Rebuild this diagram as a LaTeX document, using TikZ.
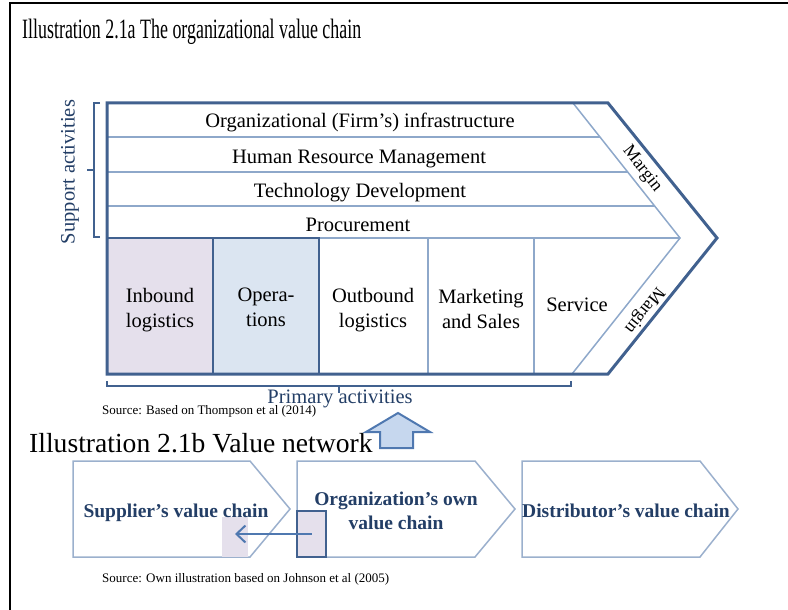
\documentclass[tikz,border=0pt]{standalone}
\usepackage{fontspec}
\setmainfont{Liberation Serif}
\newfontfamily\condfont[FakeStretch=0.64]{Liberation Serif}
\usetikzlibrary{arrows.meta,calc}
\definecolor{outerb}{HTML}{41618F}
\definecolor{lineb}{HTML}{8EA8CA}
\definecolor{txtb}{HTML}{233E66}
\definecolor{lav}{HTML}{E5E0EC}
\definecolor{ltb}{HTML}{DBE5F1}
\definecolor{arrfill}{HTML}{C6D7EE}
\definecolor{arrline}{HTML}{4F78B0}
\definecolor{chevline}{HTML}{9BB0CD}
\newcommand{\fsmain}{\fontsize{20.5}{25}\selectfont}
\newcommand{\fschev}{\fontsize{19.5}{24}\selectfont}
\tikzset{
  rowtext/.style={anchor=base, font=\fsmain, text=black, inner sep=0pt},
  primtext/.style={align=center, font=\fsmain, text=black, inner sep=0pt},
  lightline/.style={draw=lineb, line width=1.5pt},
  darkline/.style={draw=outerb, line width=2.5pt},
  chevron/.style={draw=chevline, line width=1.5pt, line join=miter},
  chevtext/.style={font=\fschev\bfseries, text=txtb, inner sep=0pt},
  bluetext/.style={font=\fsmain, text=txtb, inner sep=0pt},
  margintext/.style={font=\fontsize{18}{20}\selectfont, text=black, inner sep=0pt},
  srctext/.style={anchor=base west, font=\fontsize{13}{15}\selectfont, text=black, inner sep=0pt},
  bracket/.style={draw=outerb, line width=1.5pt}
}
\begin{document}
\begin{tikzpicture}[x=1pt,y=-1pt]
\useasboundingbox (0,0) rectangle (788,610);
% frame
\draw[line width=2pt, black] (10,610) -- (10,3) -- (788,3);
% titles
\node[anchor=base west, inner sep=0pt, font=\condfont\fontsize{28}{30}\selectfont] (t1) at (22,39) {Illustration 2.1a The organizational value chain};
\node[anchor=base west, inner sep=0pt, font=\fontsize{27.6}{30}\selectfont] (t2) at (29,452) {Illustration 2.1b Value network};

% primary box fills
\fill[lav] (107,238) rectangle (213,374);
\fill[ltb] (213,238) rectangle (319,374);
% light inner lines
\draw[lightline] (573,103) -- (680,238) -- (572,374);
\draw[lightline] (107,137) -- (600,137);
\draw[lightline] (107,172) -- (628,172);
\draw[lightline] (107,206) -- (655,206);
\draw[lightline] (319,238) -- (680,238);
\draw[lightline] (428,238) -- (428,374);
\draw[lightline] (534,238) -- (534,374);
% dark box borders
\draw[darkline] (107,238) rectangle (213,374);
\draw[darkline] (213,238) rectangle (319,374);
% outer chevron
\draw[draw=outerb, line width=3pt, line join=miter] (107,103) -- (608,103) -- (717,238) -- (608,374) -- (107,374) -- cycle;

% support rows
\node[rowtext] (infra) at (360,128) {Organizational (Firm’s) infrastructure};
\node[rowtext] (hrm) at (359,164) {Human Resource Management};
\node[rowtext] (tech) at (360,197) {Technology Development};
\node[rowtext] (proc) at (358,231) {Procurement};
% primary activities
\node[primtext] (inb) at (160,310) {Inbound\\logistics};
\node[primtext] (ops) at (266,307.5) {Opera-\\tions};
\node[primtext] (outb) at (373,310) {Outbound\\logistics};
\node[primtext] (mkt) at (481,308.5) {Marketing\\and Sales};
\node[primtext, anchor=base] (serv) at (577,311) {Service};
% margins
\node[margintext, rotate=-51.6] (m1) at (642,169) {Margin};
\node[margintext, rotate=-128.7] (m2) at (644,310) {Margin};

% support bracket
\draw[bracket] (100,103) -- (94,103) -- (94,237) -- (100,237);
\draw[bracket] (94,170) -- (87,170);
\node[bluetext, rotate=90] (supp) at (70,172) {Support activities};
% primary bracket
\draw[bracket] (107,381) -- (107,386) -- (571,386) -- (571,381);
\draw[bracket] (339,386) -- (339,393);
\node[bluetext, anchor=base] (prim) at (340,403) {Primary activities};
\node[srctext] (src1) at (102,414) {Source: Based on Thompson et al (2014)};

% block arrow
\draw[draw=arrline, line width=2pt, fill=arrfill, line join=miter] (380,448) -- (380,432) -- (366,432) -- (398,413) -- (430,432) -- (413,432) -- (413,448) -- cycle;

% value network
\draw[chevron] (73,461) -- (250,461) -- (290,509) -- (250,557) -- (73,557) -- cycle;
\draw[chevron] (297,461) -- (475,461) -- (515,509) -- (475,557) -- (297,557) -- cycle;
\draw[chevron] (522,461) -- (700,461) -- (738,509) -- (700,557) -- (522,557) -- cycle;
\node[fill=lav, minimum width=26pt, minimum height=40pt, inner sep=0pt] (supbox) at (235,537) {};
\node[chevtext, anchor=base] (sup) at (176,517) {Supplier’s value chain};
\node[chevtext, align=center] (org) at (396,511) {Organization’s own\\value chain};
\node[chevtext, anchor=base] (dist) at (626,517) {Distributor’s value chain};
\node[draw=outerb, line width=2.5pt, fill=lav, minimum width=29pt, minimum height=46pt, inner sep=0pt] (orgbox) at (311.5,534) {};
\draw[draw=arrline, line width=2pt, -{Straight Barb[length=9pt,width=17pt]}] (orgbox.center) -- (supbox.center |- orgbox.center);
\node[srctext] (src2) at (102,582) {Source: Own illustration based on Johnson et al (2005)};
\end{tikzpicture}
\end{document}
